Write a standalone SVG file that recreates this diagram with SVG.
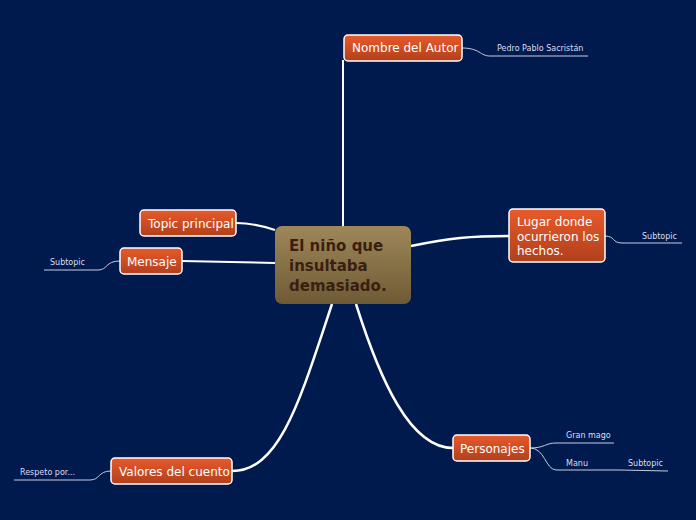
<svg xmlns="http://www.w3.org/2000/svg" width="696" height="520" viewBox="0 0 696 520">
<defs>
<linearGradient id="og" x1="0" y1="0" x2="0" y2="1"><stop offset="0" stop-color="#e85a2a"/><stop offset="1" stop-color="#b0401c"/></linearGradient>
<linearGradient id="cg" x1="0" y1="0" x2="0" y2="1"><stop offset="0" stop-color="#9e885a"/><stop offset="1" stop-color="#6e5a35"/></linearGradient>
<style>
.n{fill:url(#og);stroke:#fff;stroke-width:1.5}
.t{font-family:"DejaVu Sans",sans-serif;font-size:12px;fill:#fff}
.s{font-family:"DejaVu Sans",sans-serif;font-size:8px;fill:#dde}
.l{fill:none;stroke:#c8cce0;stroke-width:1}
.w{fill:none;stroke:#fff}
</style>
</defs>
<rect width="696" height="520" fill="#001a4d"/>
<g id="connectors">
<path class="w" stroke-width="2" d="M343,226 L343,60"/>
<path class="w" stroke-width="2.5" d="M411,246 C450,238 470,236 509,236"/>
<path class="w" stroke-width="2" d="M275,230 C260,225 250,223 236,223"/>
<path class="w" stroke-width="2" d="M275,263 L182,261"/>
<path class="w" stroke-width="2.5" d="M332,304 C300,400 280,471 232,471"/>
<path class="w" stroke-width="2.5" d="M356,304 C380,380 410,448 453,448"/>
<path class="l" d="M462,48 C480,48 480,56 490,56 L588,56"/>
<path class="l" d="M605,236 C615,236 612,243 622,243 L682,243"/>
<path class="l" d="M120,261 C105,261 108,270 98,270 L44,270"/>
<path class="l" d="M111,471 C98,471 100,480 90,480 L14,480"/>
<path class="l" d="M530,448 C545,448 545,443 556,443 L614,443"/>
<path class="l" d="M530,448 C545,448 545,469 556,470 L620,470 L668,471"/>
</g>
<g id="central"><rect x="275" y="226" width="136" height="78" rx="7" fill="url(#cg)"/>
<text font-family="DejaVu Sans,sans-serif" font-weight="bold" font-size="15" fill="#3a1f10"><tspan x="289" y="251">El niño que</tspan><tspan x="289" y="271">insultaba</tspan><tspan x="289" y="291">demasiado.</tspan></text></g>
<g id="autor"><rect class="n" x="344" y="35" width="118" height="26" rx="4"/><text class="t" x="352" y="52">Nombre del Autor</text></g>
<g id="lugar"><rect class="n" x="509" y="209" width="96" height="53" rx="4"/><text class="t"><tspan x="517" y="226">Lugar donde</tspan><tspan x="517" y="241">ocurrieron los</tspan><tspan x="517" y="255">hechos.</tspan></text></g>
<g id="topic"><rect class="n" x="140" y="210" width="96" height="26" rx="4"/><text class="t" x="148" y="228">Topic principal</text></g>
<g id="mensaje"><rect class="n" x="120" y="248" width="62" height="26" rx="4"/><text class="t" x="127" y="266">Mensaje</text></g>
<g id="valores"><rect class="n" x="111" y="458" width="121" height="26" rx="4"/><text class="t" x="119" y="476">Valores del cuento</text></g>
<g id="personajes"><rect class="n" x="453" y="435" width="77" height="26" rx="4"/><text class="t" x="460" y="453">Personajes</text></g>
<g id="leaves">
<text class="s" x="497" y="51">Pedro Pablo Sacristán</text>
<text class="s" x="642" y="239">Subtopic</text>
<text class="s" x="50" y="265">Subtopic</text>
<text class="s" x="20" y="475">Respeto por...</text>
<text class="s" x="566" y="438">Gran mago</text>
<text class="s" x="566" y="466">Manu</text>
<text class="s" x="628" y="466">Subtopic</text>
</g>
</svg>
